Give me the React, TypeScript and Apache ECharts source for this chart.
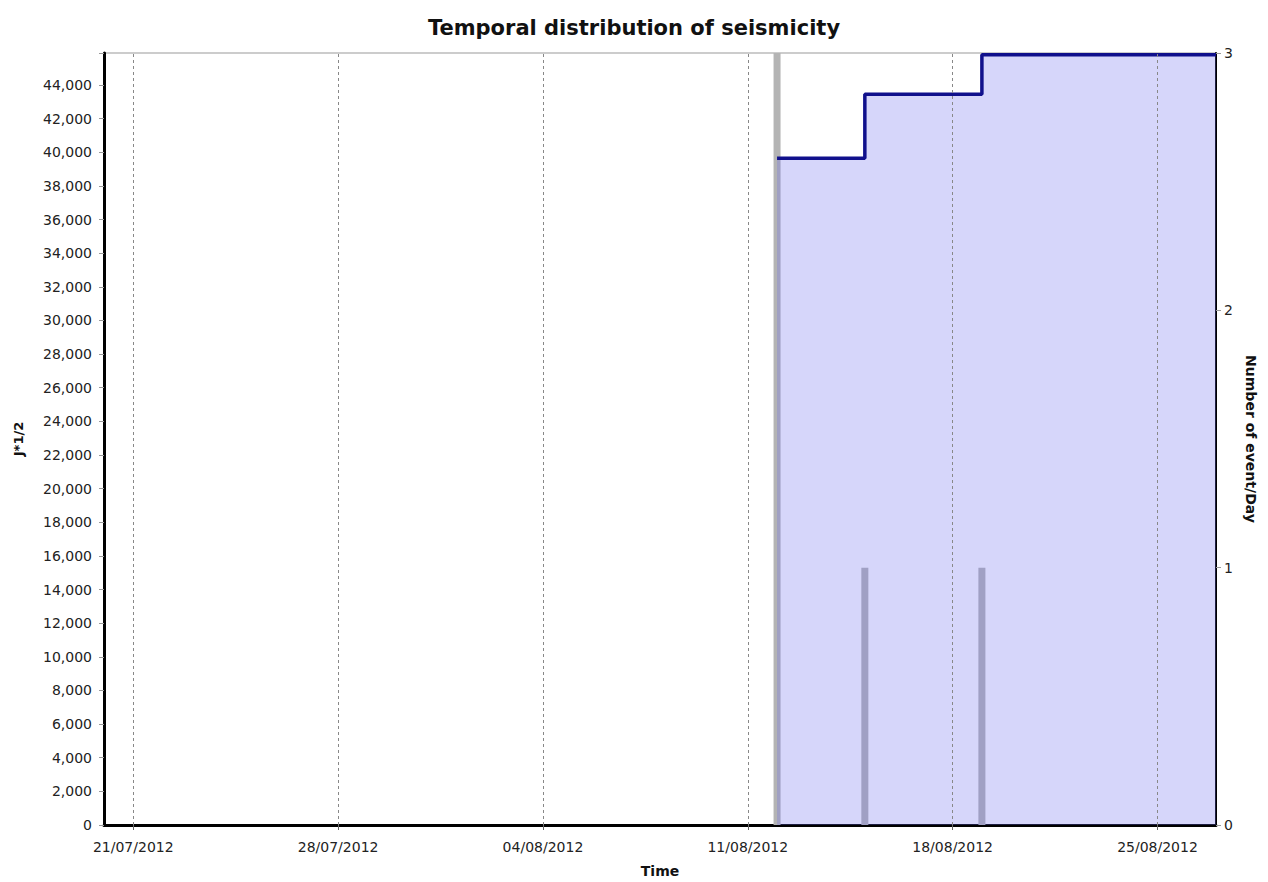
import React, { useEffect, useRef } from "react";
import * as echarts from "echarts";

// ---- data ----
const xTickDates = ["2012-07-21", "2012-07-28", "2012-08-04", "2012-08-11", "2012-08-18", "2012-08-25"];
const xRange = ["2012-07-20", "2012-08-27"];
const eventDates = ["2012-08-12", "2012-08-15", "2012-08-19"];
const eventsPerDay = [3, 1, 1];
const cumulativeDates = ["2012-08-12", "2012-08-15", "2012-08-19", "2012-08-27"];
const cumulativeValues = [39640, 43450, 45800, 45800];
const leftMax = 45900;
const leftInterval = 2000;
const rightTicks = [0, 1, 2, 3];

const toTs = (s: string) => {
  const [y, m, d] = s.split("-").map(Number);
  return Date.UTC(y, m - 1, d);
};
const fmtDate = (v: number) => {
  const d = new Date(v);
  const dd = String(d.getUTCDate()).padStart(2, "0");
  const mm = String(d.getUTCMonth() + 1).padStart(2, "0");
  return `${dd}/${mm}/${d.getUTCFullYear()}`;
};

const FONT = "DejaVu Sans";

export default function App() {
  const ref = useRef<HTMLDivElement>(null);
  useEffect(() => {
    document.body.style.margin = "0";
    if (!ref.current) return;
    const chart = echarts.init(ref.current, undefined, { renderer: "svg" });
    const tickTs = xTickDates.map(toTs);
    chart.setOption({
      animation: false,
      backgroundColor: "#ffffff",
      textStyle: { fontFamily: FONT },
      title: {
        text: "Temporal distribution of seismicity",
        left: "center",
        top: 12,
        textStyle: { fontFamily: FONT, fontSize: 21, fontWeight: "bold", color: "#111" },
      },
      grid: {
        left: 104,
        right: 52,
        top: 53,
        bottom: 57,
        containLabel: false,
        outerBoundsMode: "none",
        show: true,
        borderColor: "#999",
        borderWidth: 1,
        backgroundColor: "#fff",
      },
      xAxis: {
        type: "value",
        min: toTs(xRange[0]),
        max: toTs(xRange[1]),
        name: "Time",
        nameLocation: "middle",
        nameGap: 39,
        nameTextStyle: { fontFamily: FONT, fontSize: 14, fontWeight: "bold", color: "#111" },
        axisLine: { show: true, onZero: false, lineStyle: { color: "#000", width: 3 } },
        axisTick: { show: true, customValues: tickTs, length: 5, lineStyle: { color: "#666" } },
        axisLabel: {
          customValues: tickTs,
          formatter: (v: number) => fmtDate(v),
          margin: 15,
          fontFamily: FONT,
          fontSize: 14,
          color: "#222",
        },
        splitLine: { show: false },
      },
      yAxis: [
        {
          type: "value",
          position: "left",
          min: 0,
          max: leftMax,
          interval: leftInterval,
          name: "J*1/2",
          nameLocation: "middle",
          nameGap: 79,
          nameTextStyle: { fontFamily: FONT, fontSize: 13, fontWeight: "bold", color: "#111" },
          axisLine: { show: true, lineStyle: { color: "#000", width: 3 } },
          axisTick: { show: true, length: 5, lineStyle: { color: "#999" } },
          axisLabel: {
            margin: 12,
            fontFamily: FONT,
            fontSize: 14,
            color: "#222",
            formatter: (v: number) => (v % leftInterval === 0 ? v.toLocaleString("en-US") : ""),
          },
          splitLine: { show: false },
        },
        {
          type: "value",
          position: "right",
          min: rightTicks[0],
          max: rightTicks[rightTicks.length - 1],
          interval: 1,
          name: "Number of event/Day",
          nameLocation: "middle",
          nameGap: 28,
          nameRotate: -90,
          nameTextStyle: { fontFamily: FONT, fontSize: 14, fontWeight: "bold", color: "#111" },
          axisLine: { show: true, lineStyle: { color: "#000", width: 2 } },
          axisTick: { show: true, length: 5, lineStyle: { color: "#999" } },
          axisLabel: { margin: 8, fontFamily: FONT, fontSize: 14, color: "#222" },
          splitLine: { show: false },
        },
      ],
      series: [
        {
          type: "bar",
          yAxisIndex: 1,
          barWidth: 7,
          z: 1,
          itemStyle: { color: "#b4b4b4" },
          data: eventDates.map((d, i) => [toTs(d), eventsPerDay[i]]),
          markLine: {
            silent: true,
            symbol: "none",
            label: { show: false },
            lineStyle: { type: [3, 3], color: "#888", width: 1 },
            data: tickTs.map((t) => ({ xAxis: t })),
          },
        },
        {
          type: "line",
          yAxisIndex: 0,
          step: "end",
          symbol: "none",
          z: 3,
          lineStyle: { color: "#10108c", width: 3.5 },
          areaStyle: { color: "rgba(108,108,237,0.28)", opacity: 1 },
          data: cumulativeDates.map((d, i) => [toTs(d), cumulativeValues[i]]),
        },
      ],
    });
    return () => chart.dispose();
  }, []);
  return <div ref={ref} style={{ width: 1268, height: 882 }} />;
}
